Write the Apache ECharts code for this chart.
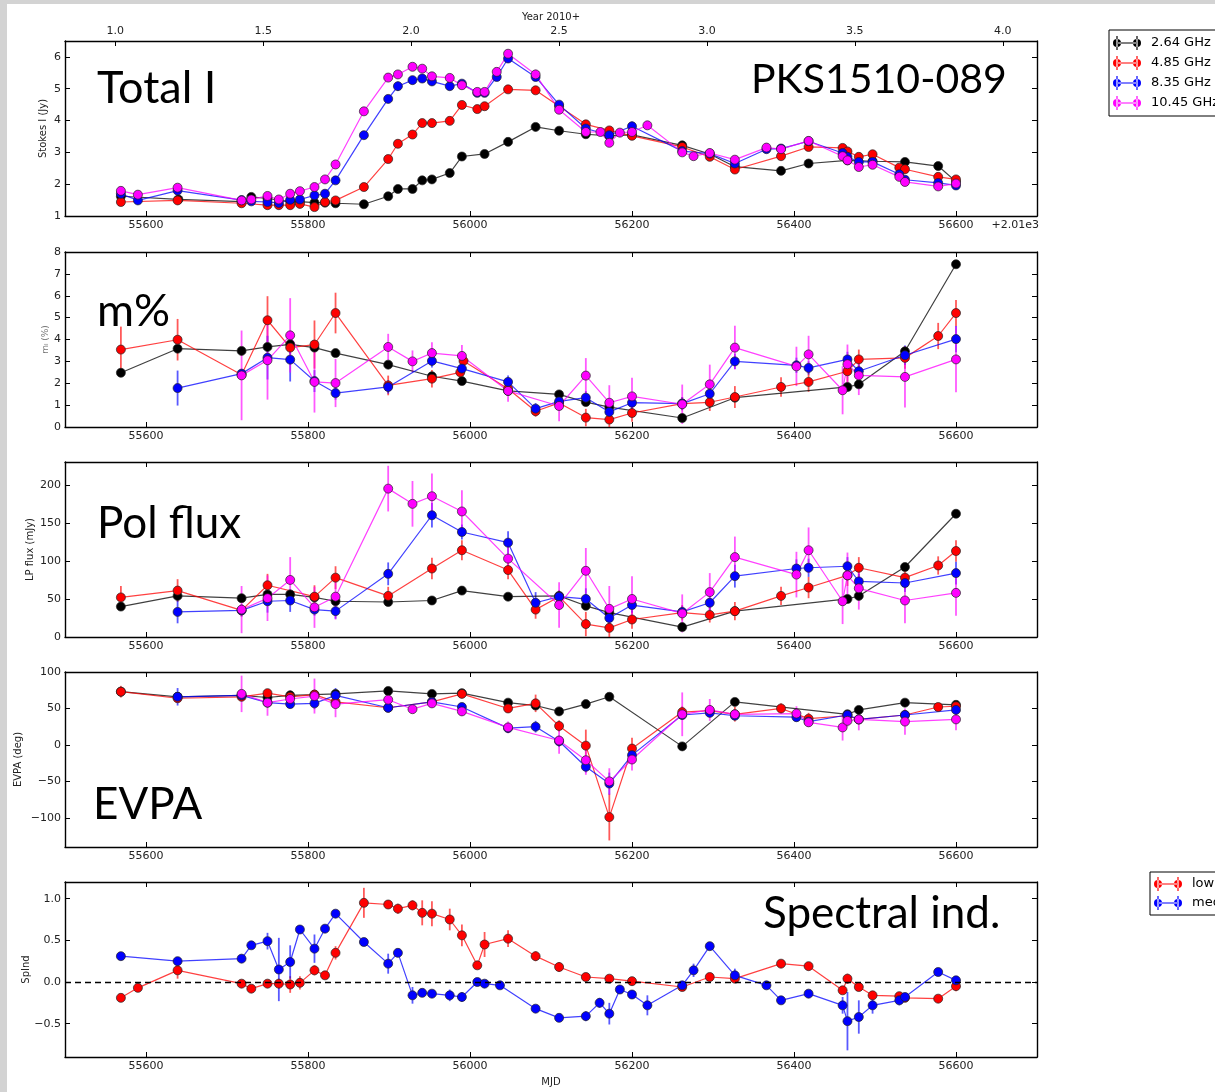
<!DOCTYPE html>
<html>
<head>
<meta charset="utf-8">
<title>PKS1510-089 monitoring</title>
<script src="https://cdn.jsdelivr.net/npm/echarts@6/dist/echarts.min.js"></script>
<style>
  html, body { margin: 0; padding: 0; background: #d3d3d3; width: 1215px; height: 1092px; overflow: hidden; }
  #paper { position: absolute; left: 7px; top: 4px; width: 1208px; height: 1088px; background: #ffffff; }
  #chart { position: absolute; left: 0; top: 0; width: 1215px; height: 1092px; }
</style>
</head>
<body>
<div id="paper"></div>
<div id="chart"></div>
<script>
// ---- tick labels ----
const mjdTicks = [55600, 55800, 56000, 56200, 56400, 56600];
const yearTicks = [1.0, 1.5, 2.0, 2.5, 3.0, 3.5, 4.0];
const stokesTicks = [1, 2, 3, 4, 5, 6];
const fracTicks = [0, 1, 2, 3, 4, 5, 6, 7, 8];
const polTicks = [0, 50, 100, 150, 200];
const evpaTicks = [-100, -50, 0, 50, 100];
const spindTicks = [-0.5, 0.0, 0.5, 1.0];

// ---- observations: [MJD, value, error] ----
// Total intensity (Jy)
const stokesI_264 = [[55569,1.62,0.03],[55640,1.52,0.03],[55718,1.45,0.03],[55730,1.60,0.03],[55750,1.55,0.03],[55778,1.45,0.03],[55790,1.45,0.03],[55808,1.42,0.03],[55821,1.42,0.03],[55834,1.40,0.03],[55869,1.37,0.03],[55899,1.62,0.03],[55911,1.85,0.03],[55929,1.85,0.03],[55941,2.12,0.03],[55953,2.15,0.03],[55975,2.35,0.03],[55990,2.87,0.03],[56018,2.95,0.03],[56047,3.33,0.03],[56081,3.80,0.04],[56110,3.68,0.04],[56143,3.57,0.04],[56172,3.52,0.04],[56200,3.55,0.04],[56262,3.22,0.04],[56296,2.95,0.04],[56327,2.55,0.04],[56384,2.42,0.04],[56418,2.65,0.04],[56466,2.75,0.04],[56497,2.72,0.04],[56537,2.70,0.04],[56578,2.57,0.04],[56600,2.08,0.04]];
const stokesI_485 = [[55569,1.44,0.03],[55639,1.49,0.03],[55718,1.40,0.03],[55750,1.34,0.03],[55764,1.34,0.03],[55778,1.34,0.03],[55790,1.38,0.03],[55808,1.28,0.03],[55821,1.44,0.03],[55834,1.49,0.03],[55869,1.91,0.03],[55899,2.79,0.04],[55911,3.27,0.04],[55929,3.56,0.04],[55941,3.92,0.04],[55953,3.92,0.04],[55975,3.99,0.04],[55990,4.49,0.04],[56009,4.36,0.04],[56018,4.45,0.04],[56047,4.98,0.05],[56081,4.95,0.05],[56110,4.45,0.05],[56143,3.88,0.04],[56172,3.69,0.04],[56200,3.52,0.04],[56262,3.17,0.04],[56296,2.86,0.04],[56327,2.46,0.04],[56384,2.88,0.04],[56418,3.17,0.04],[56460,3.14,0.04],[56466,3.03,0.04],[56480,2.86,0.04],[56497,2.94,0.04],[56530,2.52,0.04],[56537,2.47,0.04],[56578,2.23,0.04],[56600,2.15,0.04]];
const stokesI_835 = [[55569,1.70,0.03],[55590,1.49,0.03],[55639,1.80,0.03],[55718,1.50,0.03],[55730,1.46,0.03],[55750,1.44,0.03],[55764,1.41,0.03],[55778,1.51,0.03],[55790,1.52,0.03],[55808,1.65,0.03],[55821,1.70,0.03],[55834,2.12,0.04],[55869,3.54,0.04],[55899,4.68,0.05],[55911,5.08,0.15],[55929,5.27,0.05],[55941,5.32,0.05],[55953,5.23,0.05],[55975,5.08,0.05],[55990,5.16,0.05],[56009,4.87,0.05],[56018,4.87,0.05],[56033,5.37,0.05],[56047,5.95,0.06],[56081,5.37,0.05],[56110,4.50,0.05],[56143,3.75,0.05],[56172,3.54,0.05],[56200,3.82,0.15],[56262,3.04,0.04],[56296,2.96,0.04],[56327,2.65,0.04],[56366,3.10,0.04],[56384,3.12,0.04],[56418,3.35,0.04],[56460,2.98,0.04],[56466,2.86,0.04],[56480,2.70,0.04],[56497,2.70,0.04],[56530,2.31,0.04],[56537,2.14,0.04],[56578,2.04,0.04],[56600,1.96,0.04]];
const stokesI_1045 = [[55569,1.79,0.04],[55590,1.67,0.04],[55639,1.89,0.04],[55718,1.49,0.04],[55730,1.52,0.04],[55750,1.63,0.04],[55764,1.52,0.04],[55778,1.70,0.04],[55790,1.78,0.04],[55808,1.91,0.04],[55821,2.15,0.04],[55834,2.62,0.05],[55869,4.29,0.05],[55899,5.35,0.06],[55911,5.45,0.06],[55929,5.69,0.06],[55941,5.63,0.06],[55953,5.39,0.06],[55975,5.34,0.06],[55990,5.11,0.06],[56009,4.90,0.06],[56018,4.90,0.06],[56033,5.53,0.06],[56047,6.10,0.07],[56081,5.45,0.15],[56110,4.34,0.05],[56143,3.64,0.05],[56161,3.64,0.05],[56172,3.30,0.05],[56185,3.62,0.05],[56200,3.64,0.05],[56219,3.85,0.05],[56262,3.00,0.05],[56276,2.88,0.05],[56296,2.98,0.05],[56327,2.77,0.05],[56366,3.15,0.05],[56384,3.10,0.05],[56418,3.36,0.05],[56460,2.88,0.05],[56466,2.75,0.05],[56480,2.54,0.05],[56497,2.61,0.05],[56530,2.23,0.05],[56537,2.07,0.05],[56578,1.93,0.05],[56600,2.02,0.05]];

// Fractional linear polarisation (%)
const polFrac_264 = [[55569,2.48,0.1],[55639,3.58,0.1],[55718,3.48,0.1],[55750,3.66,0.1],[55778,3.78,0.1],[55808,3.63,0.1],[55834,3.38,0.1],[55899,2.85,0.1],[55953,2.32,0.1],[55990,2.10,0.1],[56047,1.65,0.1],[56110,1.49,0.1],[56143,1.14,0.1],[56172,0.91,0.1],[56262,0.41,0.1],[56327,1.34,0.1],[56466,1.83,0.1],[56480,1.95,0.1],[56537,3.46,0.15],[56600,7.44,0.15]];
const polFrac_485 = [[55569,3.54,1.05],[55639,3.99,0.95],[55718,2.39,0.15],[55750,4.88,1.1],[55778,3.63,0.3],[55808,3.77,1.1],[55834,5.21,0.93],[55899,1.90,0.45],[55953,2.21,0.4],[55988,2.50,0.3],[55992,3.02,0.3],[56047,1.75,0.3],[56081,0.72,0.25],[56110,1.10,0.3],[56143,0.43,0.4],[56172,0.34,0.35],[56200,0.64,0.4],[56262,1.07,0.3],[56296,1.13,0.4],[56327,1.37,0.5],[56384,1.83,0.45],[56418,2.06,0.45],[56466,2.55,0.6],[56480,3.09,0.45],[56537,3.16,0.5],[56578,4.16,0.6],[56600,5.21,0.6]];
const polFrac_835 = [[55639,1.78,0.8],[55718,2.44,0.2],[55750,3.17,1.0],[55778,3.08,1.0],[55808,2.10,0.5],[55834,1.55,0.3],[55899,1.83,0.3],[55953,3.02,0.3],[55990,2.67,0.3],[56047,2.06,0.3],[56081,0.84,0.25],[56110,1.17,0.3],[56143,1.34,0.3],[56172,0.69,0.3],[56200,1.11,0.3],[56262,1.07,0.3],[56296,1.52,0.3],[56327,3.00,0.35],[56403,2.82,0.35],[56418,2.70,0.3],[56466,3.09,0.35],[56480,2.55,0.3],[56537,3.28,0.45],[56600,4.02,0.6]];
const polFrac_1045 = [[55718,2.36,2.05],[55750,3.05,1.8],[55778,4.19,1.7],[55808,2.06,1.4],[55834,2.01,1.1],[55899,3.66,0.6],[55929,3.00,0.5],[55953,3.38,0.5],[55990,3.25,0.5],[56047,1.65,0.5],[56110,0.96,0.7],[56143,2.35,0.8],[56172,1.11,0.8],[56200,1.40,0.85],[56262,1.04,0.9],[56296,1.95,0.9],[56327,3.63,1.0],[56403,2.77,0.9],[56418,3.32,0.85],[56460,1.68,1.1],[56466,2.87,0.9],[56480,2.36,0.9],[56537,2.29,1.4],[56600,3.09,1.5]];

// Linearly polarised flux (mJy)
const polFlux_264 = [[55569,40,3],[55639,54,3],[55718,51,3],[55750,56,3],[55778,56,3],[55808,52,3],[55834,47,3],[55899,46,3],[55953,48,3],[55990,61,3],[56047,53,3],[56110,54,3],[56143,41,3],[56172,32,3],[56262,13,3],[56327,34,3],[56466,50,3],[56480,54,3],[56537,92,4],[56600,162,4]];
const polFlux_485 = [[55569,52,15],[55639,61,15],[55718,35,8],[55750,68,15],[55808,53,15],[55834,78,15],[55899,54,12],[55953,90,14],[55990,114,13],[56047,88,12],[56081,36,12],[56110,53,8],[56143,17,16],[56172,12,12],[56200,23,12],[56262,32,10],[56296,29,10],[56327,34,12],[56384,54,12],[56418,65,14],[56466,81,14],[56480,91,14],[56537,78,15],[56578,94,12],[56600,113,14]];
const polFlux_835 = [[55639,33,15],[55718,35,8],[55750,47,15],[55778,48,15],[55808,36,8],[55834,34,10],[55899,83,15],[55953,160,16],[55990,138,10],[56047,124,15],[56081,45,14],[56110,53,8],[56143,50,14],[56172,25,10],[56200,42,10],[56262,33,8],[56296,45,10],[56327,80,15],[56403,90,12],[56418,91,12],[56466,93,12],[56480,73,10],[56537,71,12],[56600,84,15]];
const polFlux_1045 = [[55718,36,31],[55750,51,30],[55778,75,30],[55808,39,27],[55834,53,30],[55899,195,30],[55929,175,30],[55953,185,30],[55990,165,28],[56047,103,20],[56110,42,30],[56143,87,30],[56172,37,30],[56200,50,30],[56262,31,25],[56296,59,25],[56327,105,27],[56403,82,30],[56418,114,30],[56460,47,30],[56466,81,30],[56480,64,28],[56537,48,30],[56600,58,30]];

// Polarisation angle (deg)
const evpa_264 = [[55569,73,3],[55639,66,3],[55718,68,3],[55750,65,3],[55778,68,3],[55808,69,3],[55834,70,3],[55899,74,3],[55953,70,3],[55990,71,3],[56047,58,3],[56081,54,3],[56110,46,3],[56143,56,3],[56172,66,3],[56262,-2,3],[56327,59,3],[56466,42,3],[56480,48,3],[56537,58,3],[56600,55,3]];
const evpa_485 = [[55569,73,8],[55639,64,5],[55718,66,5],[55750,71,5],[55778,66,5],[55808,69,5],[55834,59,5],[55899,51,5],[55953,59,5],[55990,70,5],[56047,50,5],[56081,57,12],[56110,26,8],[56143,-1,22],[56172,-99,32],[56200,-5,15],[56262,45,8],[56296,47,5],[56327,42,10],[56384,50,7],[56418,36,8],[56466,40,6],[56480,35,5],[56537,41,6],[56578,52,5],[56600,53,5]];
const evpa_835 = [[55639,66,12],[55718,68,5],[55750,58,6],[55778,56,6],[55808,57,8],[55834,68,10],[55899,51,6],[55953,59,5],[55990,52,5],[56047,23,6],[56081,25,8],[56110,5,8],[56143,-30,8],[56172,-53,15],[56200,-14,8],[56262,41,6],[56296,44,6],[56327,40,6],[56403,38,6],[56418,32,6],[56466,41,6],[56480,35,5],[56537,41,6],[56600,48,6]];
const evpa_1045 = [[55718,70,25],[55750,58,18],[55778,63,12],[55808,67,24],[55834,56,18],[55899,62,6],[55929,49,5],[55953,57,6],[55990,46,6],[56047,24,8],[56110,6,18],[56143,-21,20],[56172,-50,18],[56200,-20,15],[56262,42,30],[56296,48,15],[56327,42,6],[56403,43,10],[56418,31,6],[56460,24,18],[56466,33,8],[56480,35,15],[56537,32,18],[56600,35,15]];

// Spectral index
const spind_low = [[55569,-0.19,0.03],[55590,-0.07,0.03],[55639,0.14,0.1],[55718,-0.02,0.04],[55730,-0.08,0.03],[55750,-0.02,0.04],[55764,-0.02,0.06],[55778,-0.03,0.1],[55790,-0.01,0.08],[55808,0.14,0.06],[55821,0.08,0.04],[55834,0.35,0.08],[55869,0.95,0.18],[55899,0.93,0.04],[55911,0.88,0.06],[55929,0.92,0.06],[55941,0.83,0.15],[55953,0.82,0.15],[55975,0.75,0.13],[55990,0.56,0.13],[56009,0.20,0.04],[56018,0.45,0.15],[56047,0.52,0.1],[56081,0.31,0.06],[56110,0.18,0.06],[56143,0.06,0.04],[56172,0.04,0.03],[56200,0.01,0.03],[56262,-0.06,0.03],[56296,0.06,0.03],[56327,0.04,0.04],[56384,0.22,0.04],[56418,0.19,0.05],[56460,-0.10,0.04],[56466,0.04,0.06],[56480,-0.06,0.04],[56497,-0.16,0.03],[56530,-0.17,0.03],[56537,-0.19,0.03],[56578,-0.20,0.03],[56600,-0.05,0.06]];
const spind_med = [[55569,0.31,0.03],[55639,0.25,0.03],[55718,0.28,0.05],[55730,0.44,0.04],[55750,0.49,0.1],[55764,0.15,0.38],[55778,0.24,0.2],[55790,0.63,0.04],[55808,0.40,0.17],[55821,0.64,0.04],[55834,0.82,0.04],[55869,0.48,0.04],[55899,0.22,0.12],[55911,0.35,0.04],[55929,-0.16,0.1],[55941,-0.13,0.04],[55953,-0.14,0.04],[55975,-0.16,0.07],[55990,-0.18,0.06],[56009,0.00,0.04],[56018,-0.02,0.03],[56037,-0.04,0.03],[56081,-0.32,0.04],[56110,-0.43,0.04],[56143,-0.41,0.06],[56160,-0.25,0.06],[56172,-0.38,0.13],[56185,-0.09,0.04],[56200,-0.15,0.04],[56219,-0.28,0.12],[56262,-0.04,0.04],[56276,0.14,0.08],[56296,0.43,0.03],[56327,0.08,0.08],[56366,-0.04,0.03],[56384,-0.22,0.03],[56418,-0.14,0.04],[56460,-0.28,0.1],[56466,-0.47,0.35],[56480,-0.42,0.2],[56497,-0.28,0.1],[56530,-0.22,0.06],[56537,-0.18,0.03],[56578,0.12,0.03],[56600,0.02,0.03]];

// ---- styling / layout ----
const FONT = 'DejaVu Sans';
const MJD_MIN = 55500, MJD_MAX = 56700;
const MJD_2011 = 55562;                       // 2011-01-01 -> "1.0" on the year axis
const toYear = m => 1 + (m - MJD_2011) / 365.25;
const minus = s => String(s).replace('-', '\u2212');

const bands = [
  { name: '2.64 GHz', color: '#000000' },
  { name: '4.85 GHz', color: '#ff0000' },
  { name: '8.35 GHz', color: '#0000ff' },
  { name: '10.45 GHz', color: '#ff00ff' }
];
const indexBands = [
  { name: 'low', color: '#ff0000' },
  { name: 'med', color: '#0000ff' }
];

const panels = [
  { top: 41,  data: [stokesI_264, stokesI_485, stokesI_835, stokesI_1045], keys: bands,
    min: 1, max: 6.5, ticks: stokesTicks, name: 'Stokes I (Jy)', gap: 17, fmt: v => String(v) },
  { top: 252, data: [polFrac_264, polFrac_485, polFrac_835, polFrac_1045], keys: bands,
    min: 0, max: 8, ticks: fracTicks, name: 'm\u2097 (%)', gap: 15, fmt: v => String(v), nameColor: '#777' },
  { top: 462, data: [polFlux_264, polFlux_485, polFlux_835, polFlux_1045], keys: bands,
    min: 0, max: 230, ticks: polTicks, name: 'LP flux (mJy)', gap: 30, fmt: v => String(v) },
  { top: 672, data: [evpa_264, evpa_485, evpa_835, evpa_1045], keys: bands,
    min: -140, max: 100, ticks: evpaTicks, name: 'EVPA (deg)', gap: 42, fmt: v => minus(v) },
  { top: 882, data: [spind_low, spind_med], keys: indexBands,
    min: -0.9, max: 1.2, ticks: spindTicks, name: 'SpInd', gap: 34, fmt: v => minus(v.toFixed(1)) }
];

const labelStyle = { fontFamily: FONT, fontSize: 11, color: '#222' };
const frame = { show: true, onZero: false, lineStyle: { color: '#000', width: 1.4 } };
const tickStyle = { color: '#000', width: 1 };

const grid = [], xAxis = [], yAxis = [], series = [];

panels.forEach((p, i) => {
  grid.push({ left: 65, right: 178, top: p.top, height: 175 });

  // bottom MJD axis
  xAxis.push({
    type: 'value', gridIndex: i, position: 'bottom', min: MJD_MIN, max: MJD_MAX,
    axisLine: frame,
    axisTick: { show: true, inside: true, length: 5, customValues: mjdTicks, lineStyle: tickStyle },
    axisLabel: Object.assign({ customValues: mjdTicks, margin: 4, formatter: v => String(v) }, labelStyle),
    splitLine: { show: false },
    name: i === 4 ? 'MJD' : '', nameLocation: 'middle', nameGap: 20, nameMoveOverlap: false,
    nameTextStyle: { fontFamily: FONT, fontSize: 10, color: '#222' }
  });
  // top axis: calendar year on the first panel, mirrored MJD ticks elsewhere
  if (i === 0) {
    xAxis.push({
      type: 'value', gridIndex: i, position: 'top', min: toYear(MJD_MIN), max: toYear(MJD_MAX),
      axisLine: frame,
      axisTick: { show: true, inside: true, length: 5, customValues: yearTicks, lineStyle: tickStyle },
      axisLabel: Object.assign({ customValues: yearTicks, margin: 4, formatter: v => v.toFixed(1) }, labelStyle),
      splitLine: { show: false },
      name: 'Year 2010+', nameLocation: 'middle', nameGap: 19, nameMoveOverlap: false,
      nameTextStyle: { fontFamily: FONT, fontSize: 10, color: '#222' }
    });
  } else {
    xAxis.push({
      type: 'value', gridIndex: i, position: 'top', min: MJD_MIN, max: MJD_MAX,
      axisLine: frame,
      axisTick: { show: true, inside: true, length: 5, customValues: mjdTicks, lineStyle: tickStyle },
      axisLabel: { show: false }, splitLine: { show: false }
    });
  }

  yAxis.push({
    type: 'value', gridIndex: i, position: 'left', min: p.min, max: p.max,
    axisLine: frame,
    axisTick: { show: true, inside: true, length: 5, customValues: p.ticks, lineStyle: tickStyle },
    axisLabel: Object.assign({ customValues: p.ticks, margin: 4, formatter: p.fmt }, labelStyle),
    splitLine: { show: false },
    name: p.name, nameLocation: 'middle', nameGap: p.gap, nameRotate: 90, nameMoveOverlap: false,
    nameTextStyle: { fontFamily: FONT, fontSize: p.nameColor ? 9 : 10, color: p.nameColor || '#222' }
  });
  yAxis.push({
    type: 'value', gridIndex: i, position: 'right', min: p.min, max: p.max,
    axisLine: frame,
    axisTick: { show: true, inside: true, length: 5, customValues: p.ticks, lineStyle: tickStyle },
    axisLabel: { show: false }, splitLine: { show: false }
  });

  p.data.forEach((rows, j) => {
    const key = p.keys[j];
    // vertical error bars
    series.push({
      type: 'custom', name: key.name + ' error', xAxisIndex: 2 * i, yAxisIndex: 2 * i,
      data: rows, encode: { x: 0, y: 1 }, clip: true, silent: true, z: 2,
      renderItem: (params, api) => {
        const x = api.value(0), y = api.value(1), e = api.value(2);
        const a = api.coord([x, y - e]), b = api.coord([x, y + e]);
        return {
          type: 'line',
          shape: { x1: a[0], y1: a[1], x2: b[0], y2: b[1] },
          style: { stroke: key.color, lineWidth: 1.8, opacity: 0.65 }
        };
      }
    });
    // connecting line with circle markers
    const line = {
      type: 'line', name: key.name, xAxisIndex: 2 * i, yAxisIndex: 2 * i,
      data: rows.map(r => [r[0], r[1]]),
      symbol: 'circle', symbolSize: 9, showAllSymbol: true, clip: true, z: 2,
      lineStyle: { color: key.color, width: 1.2, opacity: 0.75 },
      itemStyle: { color: key.color, borderColor: '#222', borderWidth: 0.7 },
      emphasis: { disabled: true }, silent: true
    };
    if (i === 4 && j === 0) {
      line.markLine = {
        silent: true, symbol: 'none', animation: false,
        label: { show: false },
        lineStyle: { color: '#000', width: 1.3, type: [6, 4] },
        data: [{ yAxis: 0 }]
      };
    }
    series.push(line);
  });
});

// legend glyph: two markers joined by a line, each with an error bar
const errGlyph = 'path://M1,7a4,4 0 1,0 8,0a4,4 0 1,0 -8,0Z M21,7a4,4 0 1,0 8,0a4,4 0 1,0 -8,0Z M5,6.4H25V7.6H5Z M4.4,0H5.6V14H4.4Z M24.4,0H25.6V14H24.4Z';
const legendBase = {
  orient: 'vertical', icon: errGlyph, itemWidth: 30, itemHeight: 14,
  selectedMode: false, backgroundColor: '#ffffff',
  borderColor: '#000', borderWidth: 1, borderRadius: 0,
  itemStyle: { borderWidth: 0 },
  textStyle: { fontFamily: FONT, fontSize: 13, color: '#000', padding: [0, 0, 0, 4] }
};

const annot = (text, x, y, size) => ({
  type: 'text', x: x, y: y, silent: true,
  style: { text: text, fill: '#000', font: (size || 44) + 'px Lato', textVerticalAlign: 'middle' }
});

const option = {
  animation: false,
  backgroundColor: 'transparent',
  grid, xAxis, yAxis, series,
  legend: [
    Object.assign({}, legendBase, { data: bands.map(b => b.name), left: 1109, top: 30, itemGap: 6, padding: [6, 40, 6, 4] }),
    Object.assign({}, legendBase, { data: indexBands.map(b => b.name), left: 1150, top: 872, itemGap: 5, padding: [5, 40, 5, 4] })
  ],
  graphic: [
    annot('Total I', 97, 88, 45),
    annot('PKS1510-089', 751, 80, 41),
    annot('m%', 97, 311, 45),
    annot('Pol flux', 97, 524, 44),
    annot('EVPA', 93, 805, 44),
    annot('Spectral ind.', 763, 914, 44),
    { type: 'text', x: 1039, y: 225, silent: true,
      style: { text: '+2.01e3', fill: '#222', font: '11px "DejaVu Sans"', textAlign: 'right', textVerticalAlign: 'middle' } }
  ]
};

const chart = echarts.init(document.getElementById('chart'), null, { renderer: 'canvas' });
chart.setOption(option);
</script>
</body>
</html>
